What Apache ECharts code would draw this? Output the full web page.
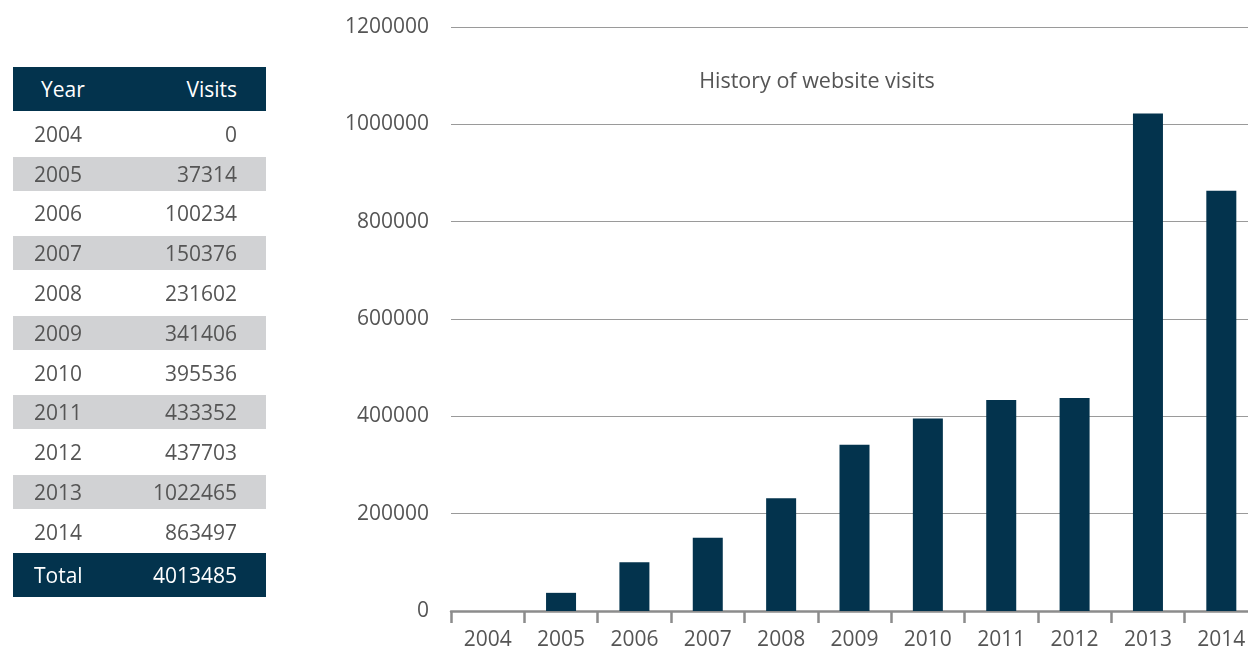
<!DOCTYPE html>
<html>
<head>
<meta charset="utf-8">
<script src="https://cdn.jsdelivr.net/npm/echarts@6/dist/echarts.min.js"></script>
<style>
  html, body { margin: 0; padding: 0; background: #fff; }
  #wrap { position: relative; width: 1248px; height: 649px; overflow: hidden; }
  #chart { position: absolute; left: 0; top: 0; width: 1248px; height: 649px; }
  #table { position: absolute; left: 13px; top: 67px; width: 253px;
    font-family: "Open Sans", sans-serif; font-size: 21px; color: #555; }
  .rows { margin-top: 3px; }
  .row { position: relative; height: 39.8px; }
  .row .bg { position: absolute; left: 0; right: 0; top: 2.9px; bottom: 2.9px; }
  .row.alt .bg { background: #d1d2d4; }
  .row span, .head span { position: absolute; top: 50%; transform: translateY(-50%); }
  .yr { left: 21px; }
  .val { right: 29px; }
  .head { position: relative; height: 44px; background: #03334d; color: #fff; }
  .head.total { margin-top: 1px; }
  .head .yr { left: 28px; }
  .head.total .yr { left: 21px; }
</style>
</head>
<body>
<div id="wrap">
  <div id="chart"></div>
  <div id="table"></div>
</div>
<script>
// data
const years = ['2004', '2005', '2006', '2007', '2008', '2009', '2010', '2011', '2012', '2013', '2014']
const visits = [0, 37314, 100234, 150376, 231602, 341406, 395536, 433352, 437703, 1022465, 863497]
const yTicks = [0, 200000, 400000, 600000, 800000, 1000000, 1200000]

// table on the left
const table = document.getElementById('table')
let html = '<div class="head"><span class="yr">Year</span><span class="val">Visits</span></div><div class="rows">'
years.forEach((y, i) => {
  html += '<div class="row' + (i % 2 === 1 ? ' alt' : '') + '"><div class="bg"></div>' +
    '<span class="yr">' + y + '</span><span class="val">' + visits[i] + '</span></div>'
})
const total = visits.reduce((a, b) => a + b, 0)
html += '</div><div class="head total"><span class="yr">Total</span><span class="val">' + total + '</span></div>'
table.innerHTML = html

// bar chart
const chart = echarts.init(document.getElementById('chart'))
const font = '"Open Sans", sans-serif'

chart.setOption({
  animation: false,
  title: {
    text: 'History of website visits',
    left: 812,
    top: 66,
    textAlign: 'center',
    textStyle: { fontFamily: font, fontSize: 21.5, fontWeight: 'normal', color: '#555' },
  },
  // the plot runs past the right edge of the picture, as in the original
  grid: { left: 451, top: 27, bottom: 38, width: 807, outerBoundsMode: 'none' },
  xAxis: {
    type: 'category',
    data: years,
    axisLine: { lineStyle: { color: '#8c8c8c', width: 2.5 } },
    axisTick: { show: true, length: 12, lineStyle: { color: '#8c8c8c', width: 2.5 } },
    axisLabel: { fontFamily: font, fontSize: 21, color: '#555', margin: 19 },
  },
  yAxis: {
    type: 'value',
    min: yTicks[0],
    max: yTicks[yTicks.length - 1],
    interval: yTicks[1] - yTicks[0],
    axisLine: { show: false },
    axisTick: { show: false },
    axisLabel: {
      fontFamily: font, fontSize: 21, color: '#555', margin: 22,
      formatter: (v) => String(v),
    },
    splitLine: { lineStyle: { color: '#9a9a9a', width: 1.2 } },
  },
  series: [
    {
      type: 'bar',
      data: visits,
      barWidth: 30,
      itemStyle: { color: '#03334d' },
    },
  ],
})
</script>
</body>
</html>
